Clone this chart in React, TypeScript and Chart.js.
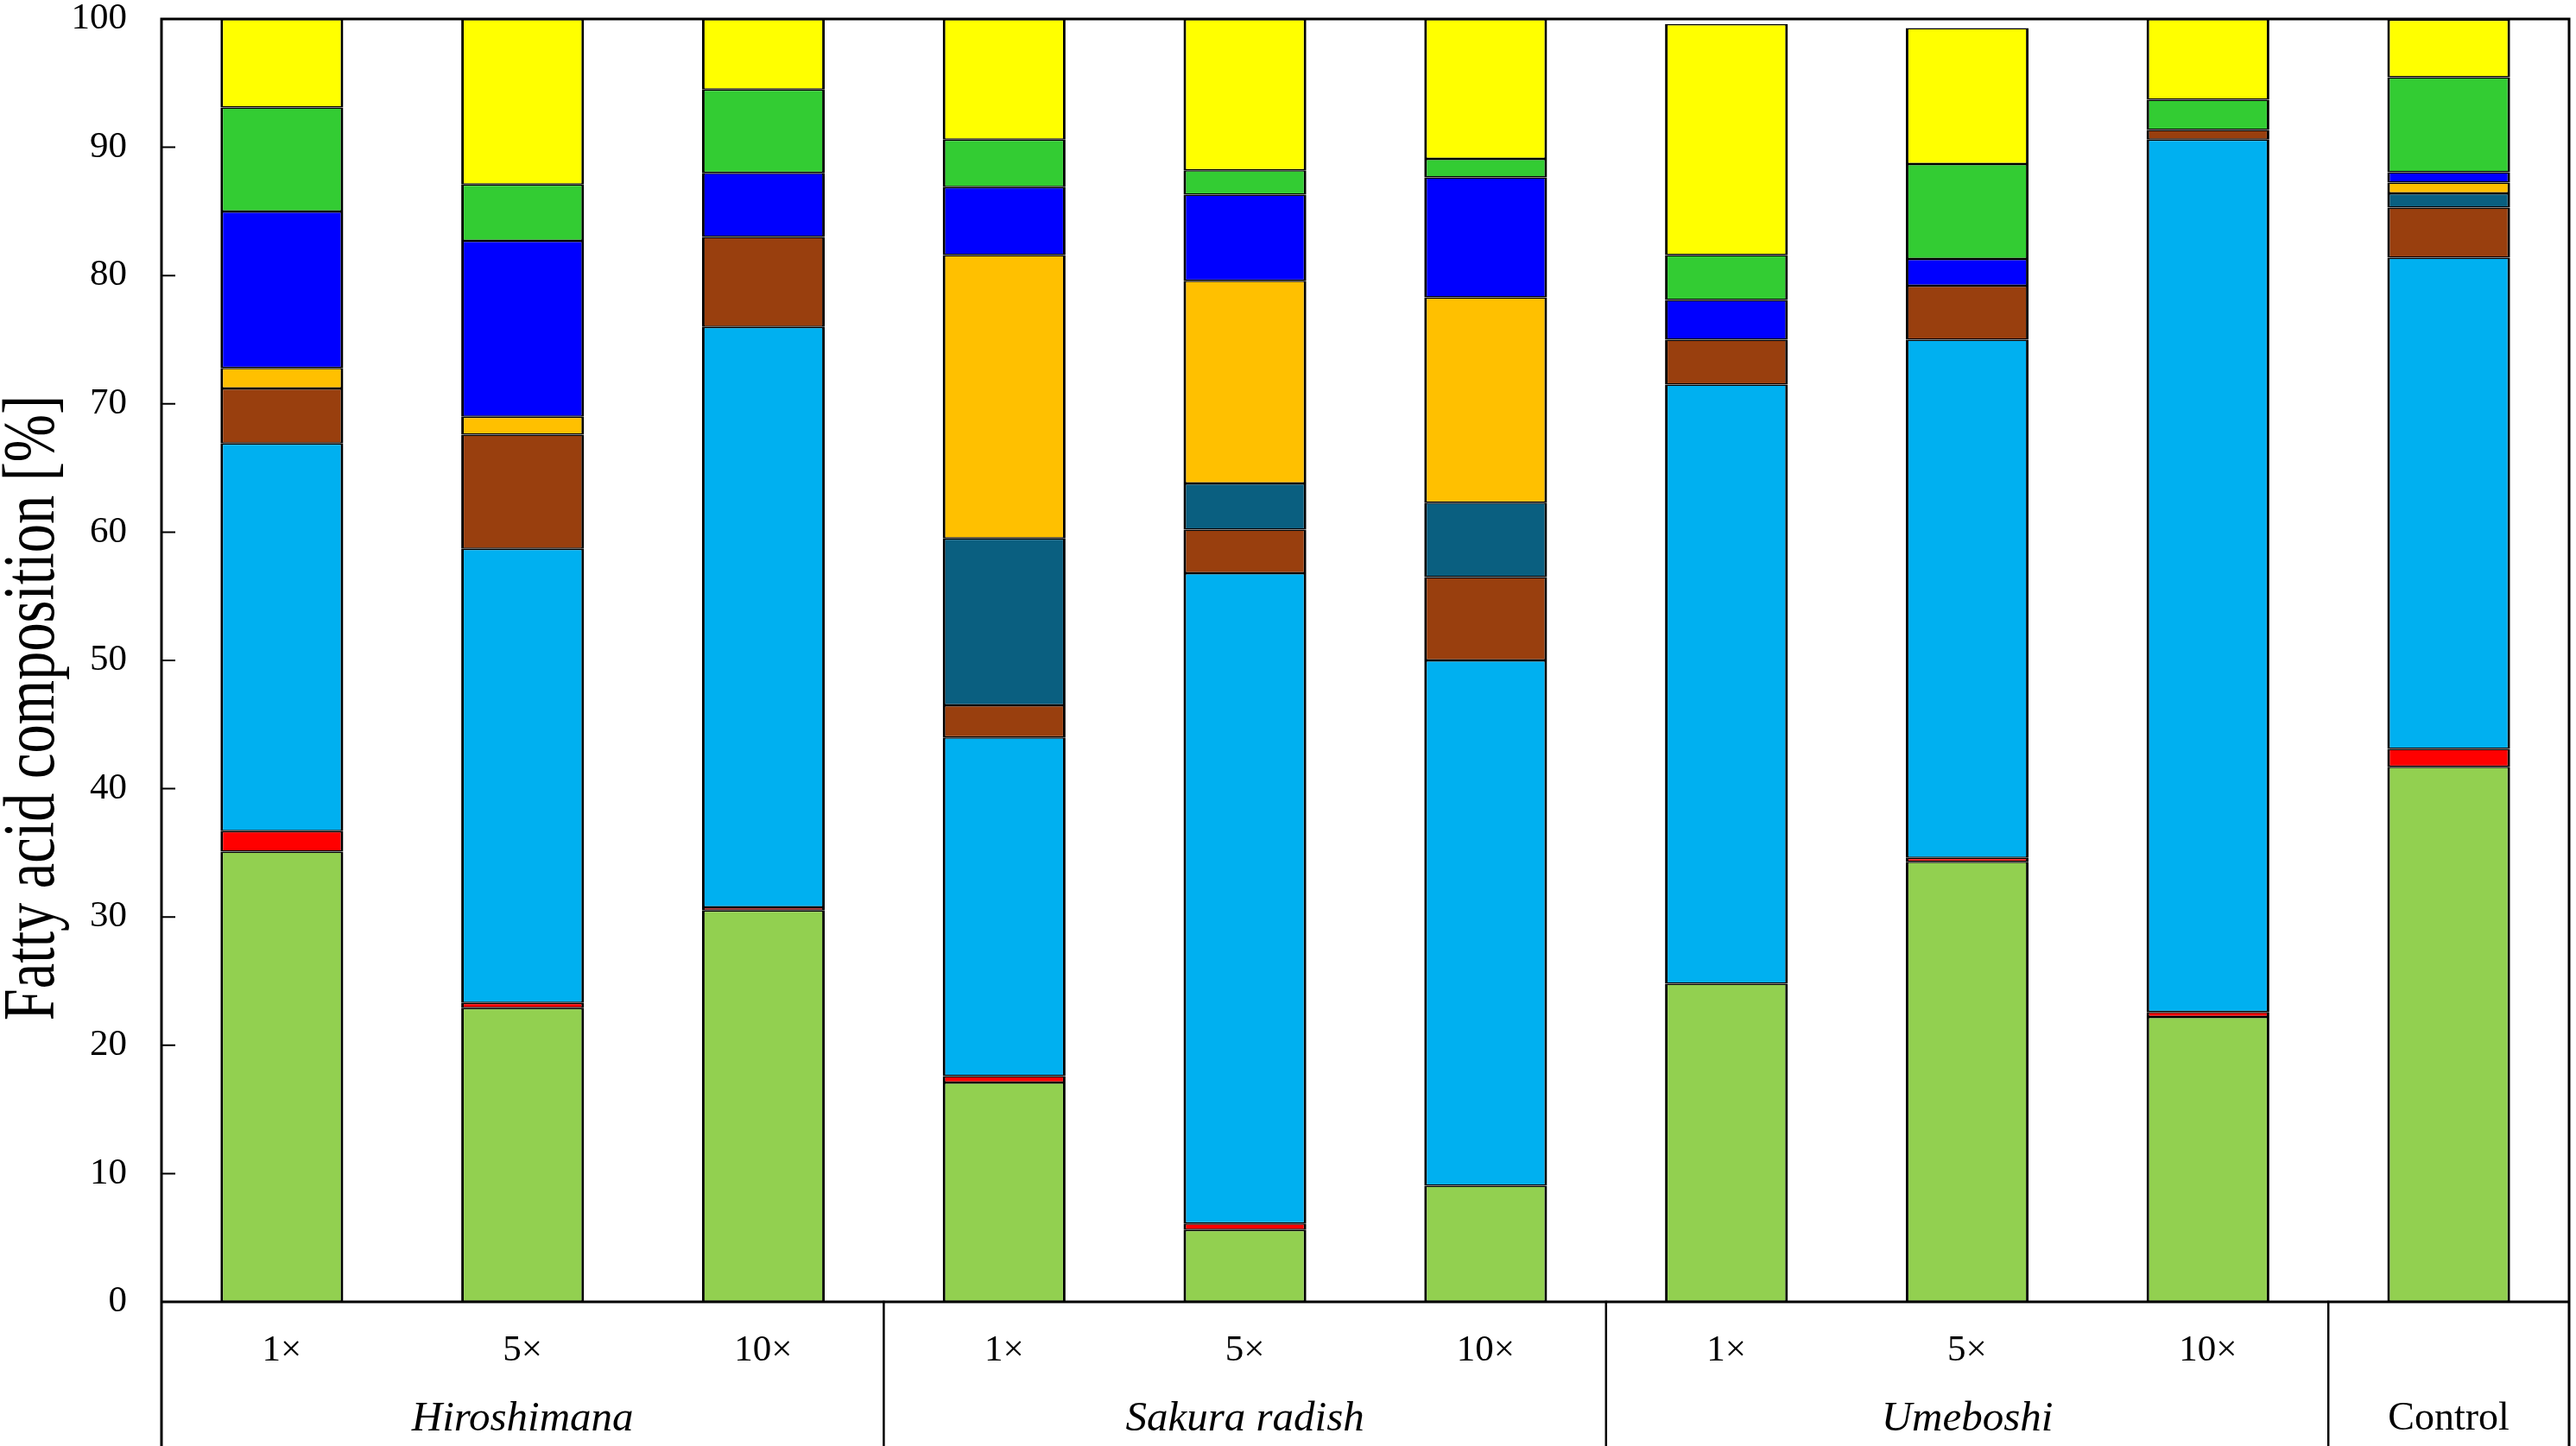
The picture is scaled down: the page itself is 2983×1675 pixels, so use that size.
import React, { useEffect, useRef } from 'react';
import { Chart, BarController, BarElement, CategoryScale, LinearScale } from 'chart.js';

Chart.register(BarController, BarElement, CategoryScale, LinearScale);

const categories = ['H1', 'H5', 'H10', 'S1', 'S5', 'S10', 'U1', 'U5', 'U10', 'C'];
const subLabels = ['1×', '5×', '10×', '1×', '5×', '10×', '1×', '5×', '10×', ''];
const groups = [
  { label: 'Hiroshimana', from: 0, to: 2, italic: true },
  { label: 'Sakura radish', from: 3, to: 5, italic: true },
  { label: 'Umeboshi', from: 6, to: 8, italic: true },
  { label: 'Control', from: 9, to: 9, italic: false },
];
const yTicks = { min: 0, max: 100, step: 10 };

// stacked layers, bottom to top
const lightGreen = [35.1, 22.9, 30.5, 17.1, 5.6, 9.05, 24.8, 34.3, 22.2, 41.7];
const red = [1.6, 0.4, 0.25, 0.5, 0.5, null, null, 0.3, 0.4, 1.4];
const skyBlue = [30.2, 35.4, 45.25, 26.4, 50.7, 40.95, 46.7, 40.4, 68.0, 38.3];
const brown = [4.3, 8.9, 7.0, 2.5, 3.4, 6.5, 3.5, 4.2, 0.75, 3.9];
const teal = [null, null, null, 13.0, 3.6, 5.8, null, null, null, 1.1];
const orange = [1.6, 1.4, null, 22.1, 15.8, 16.0, null, null, null, 0.85];
const blue = [12.2, 13.7, 5.0, 5.3, 6.7, 9.35, 3.1, 2.1, null, 0.8];
const green = [8.1, 4.4, 6.5, 3.7, 1.9, 1.45, 3.5, 7.4, 2.35, 7.4];
const yellow = [6.9, 12.9, 5.5, 9.4, 11.8, 10.9, 18.0, 10.6, 6.3, 4.5];

const layers = [
  { name: 'lightGreen', data: lightGreen, color: '#92D050' },
  { name: 'red', data: red, color: '#FF0000' },
  { name: 'skyBlue', data: skyBlue, color: '#00B0F0' },
  { name: 'brown', data: brown, color: '#993F0E' },
  { name: 'teal', data: teal, color: '#0A5F80' },
  { name: 'orange', data: orange, color: '#FFC000' },
  { name: 'blue', data: blue, color: '#0000FF' },
  { name: 'green', data: green, color: '#33CC33' },
  { name: 'yellow', data: yellow, color: '#FFFF00' },
];

const FONT = '"Liberation Serif", "Times New Roman", serif';

// frame, inner ticks, two-level x labels and the y title
const framePlugin = {
  id: 'frame',
  afterDraw(chart: any) {
    const { ctx, chartArea, scales } = chart;
    const { left, right, top, bottom } = chartArea;
    const x = scales.x;
    const y = scales.y;
    const h = chart.height;
    ctx.save();
    ctx.strokeStyle = '#000';
    ctx.lineCap = 'square';

    ctx.lineWidth = 3;
    ctx.beginPath();
    ctx.moveTo(left, top);
    ctx.lineTo(right, top);
    ctx.moveTo(left, bottom);
    ctx.lineTo(right, bottom);
    ctx.moveTo(left, top);
    ctx.lineTo(left, h);
    ctx.moveTo(right, top);
    ctx.lineTo(right, h);
    ctx.stroke();

    ctx.lineWidth = 2.5;
    ctx.beginPath();
    groups.slice(0, -1).forEach((g) => {
      const px = (x.getPixelForValue(g.to) + x.getPixelForValue(g.to + 1)) / 2;
      ctx.moveTo(px, bottom);
      ctx.lineTo(px, h);
    });
    ctx.stroke();

    ctx.lineWidth = 2;
    ctx.beginPath();
    y.ticks.forEach((t: any) => {
      const py = y.getPixelForValue(t.value);
      ctx.moveTo(left, py);
      ctx.lineTo(left + 15, py);
    });
    ctx.stroke();

    ctx.fillStyle = '#000';
    ctx.textAlign = 'center';
    ctx.textBaseline = 'middle';
    ctx.font = `43px ${FONT}`;
    subLabels.forEach((s, i) => {
      if (s) ctx.fillText(s, x.getPixelForValue(i), bottom + 57);
    });
    groups.forEach((g) => {
      const px = (x.getPixelForValue(g.from) + x.getPixelForValue(g.to)) / 2;
      ctx.font = `${g.italic ? 'italic ' : ''}${g.italic ? 49 : 46}px ${FONT}`;
      ctx.fillText(g.label, px, bottom + 136);
    });

    ctx.translate(40, (top + bottom) / 2 + 55);
    ctx.rotate(-Math.PI / 2);
    ctx.scale(0.79, 1);
    ctx.font = `84px ${FONT}`;
    ctx.fillText('Fatty acid composition [%]', 0, 0);
    ctx.restore();
  },
};

const App: React.FC = () => {
  const chartRef = useRef<HTMLCanvasElement | null>(null);
  const chartInstance = useRef<Chart | null>(null);

  useEffect(() => {
    if (!chartRef.current) return;
    if (chartInstance.current) chartInstance.current.destroy();

    chartInstance.current = new Chart(chartRef.current, {
      type: 'bar',
      data: {
        labels: categories,
        datasets: layers.map((l) => ({
          label: l.name,
          data: l.data,
          backgroundColor: l.color,
          borderColor: '#000',
          borderWidth: { top: 1.5, bottom: 1.5, left: 3, right: 3 },
          borderSkipped: false,
          categoryPercentage: 1,
          barPercentage: 0.51,
        })),
      },
      options: {
        animation: false,
        responsive: true,
        maintainAspectRatio: false,
        devicePixelRatio: 1,
        layout: { padding: { top: 22, right: 8, left: 0, bottom: 0 } },
        plugins: { legend: { display: false }, tooltip: { enabled: false } },
        scales: {
          x: {
            stacked: true,
            grid: { display: false },
            border: { display: false },
            ticks: { display: false },
            afterFit: (s: any) => {
              s.height = 167;
            },
          },
          y: {
            stacked: true,
            min: yTicks.min,
            max: yTicks.max,
            grid: { display: false, drawTicks: false },
            border: { display: false },
            ticks: {
              stepSize: yTicks.step,
              padding: 40,
              color: '#000',
              font: { family: FONT, size: 43 },
            },
            afterFit: (s: any) => {
              s.width = 187;
              s.paddingTop = 0;
              s.paddingBottom = 0;
            },
          },
        },
      },
      plugins: [framePlugin],
    });

    return () => {
      if (chartInstance.current) {
        chartInstance.current.destroy();
        chartInstance.current = null;
      }
    };
  }, []);

  return (
    <div style={{ position: 'fixed', left: 0, top: 0, width: 2983, height: 1675, background: '#fff' }}>
      <canvas ref={chartRef} />
    </div>
  );
};

export default App;
